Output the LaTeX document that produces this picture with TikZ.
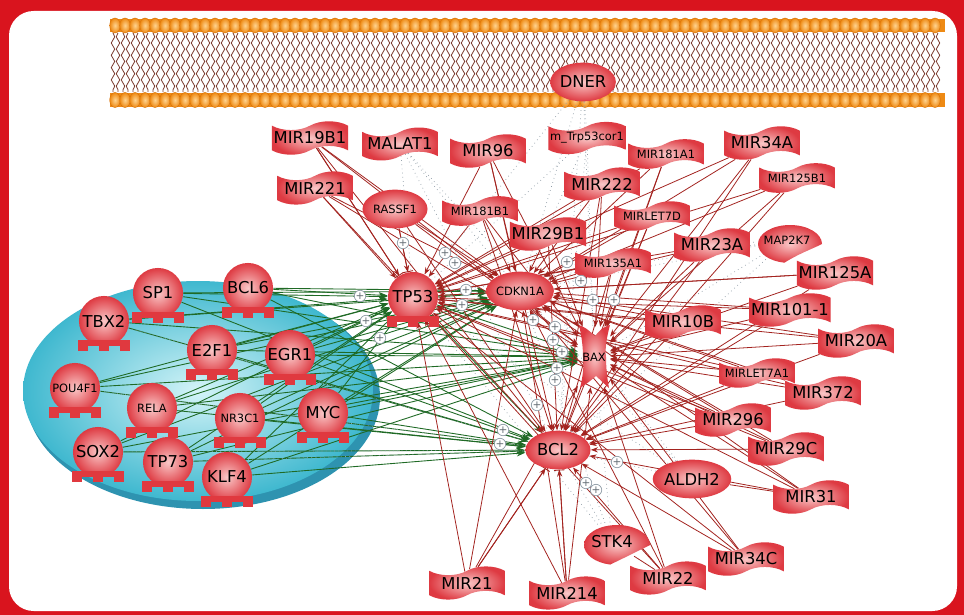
\documentclass[tikz,border=0pt]{standalone}
\usepackage{fontspec}
\setmainfont{DejaVu Sans}
\usetikzlibrary{calc,arrows.meta,shapes.geometric,shapes.symbols,decorations.pathmorphing}
\definecolor{frame}{HTML}{D9141E}
\definecolor{nodeout}{HTML}{DE3A42}
\definecolor{nodein}{HTML}{FAC8C8}
\definecolor{headout}{HTML}{EE8A14}
\definecolor{headin}{HTML}{FFD38F}
\definecolor{headrim}{HTML}{D8730C}
\definecolor{tail}{HTML}{7A3A2E}
\definecolor{diskout}{HTML}{3FB8CF}
\definecolor{diskin}{HTML}{D4F4F8}
\definecolor{diskrim}{HTML}{2E93B0}
\definecolor{actgreen}{HTML}{1F6A25}
\definecolor{inhred}{HTML}{A3231F}
\definecolor{relgray}{HTML}{8F9CA6}
\definecolor{footred}{HTML}{E0393F}
\pgfdeclarelayer{back}
\pgfdeclarelayer{edges}
\pgfsetlayers{back,edges,main}
\tikzset{
  bodyshade/.style={inner color=nodein, outer color=nodeout},
  mirna/.style={shape=tape, tape bend top=in and out, tape bend bottom=in and out, bodyshade,
    minimum width=43pt, minimum height=13pt, inner sep=1pt, font=\fontsize{9.3}{10}\selectfont},
  smirna/.style={mirna, font=\fontsize{6.5}{7}\selectfont},
  prot/.style={ellipse, bodyshade, minimum width=37pt, minimum height=22pt, inner sep=0pt,
    font=\fontsize{9.3}{10}\selectfont},
  sprot/.style={prot, font=\fontsize{6.5}{7}\selectfont},
  tfac/.style={circle, bodyshade, minimum size=28.5pt, inner sep=0pt, font=\fontsize{9.3}{10}\selectfont},
  stfac/.style={tfac, font=\fontsize{6.5}{7}\selectfont},
  crlbl/.style={ellipse, minimum width=36pt, minimum height=22pt, inner sep=0pt},
  boxlbl/.style={rectangle, minimum width=18pt, minimum height=34pt, inner sep=0pt, font=\fontsize{6.5}{7}\selectfont},
  foot/.style={fill=footred},
  head/.style={inner color=headin, outer color=headout, draw=headrim, line width=0.25pt},
  lipid/.style={draw=tail, line width=0.45pt, decorate, decoration={snake, amplitude=1pt, segment length=7pt}},
  lipidb/.style={lipid, decoration={snake, amplitude=1pt, segment length=7pt, mirror}},
  act/.style={draw=actgreen, line width=0.5pt, -{Stealth[length=5pt,width=3.5pt]}},
  inh/.style={draw=inhred, line width=0.45pt, -{Stealth[length=4pt,width=3pt]}},
  blk/.style={draw=inhred, line width=0.5pt, -{Bar[width=6pt]}},
  rel/.style={draw=relgray, line width=0.4pt, dotted},
  plusmark/.style={circle, draw=relgray, fill=white, text=relgray!70!black, inner sep=0pt,
    minimum size=6.5pt, font=\fontsize{6}{6}\selectfont}
}
\begin{document}
\begin{tikzpicture}[x=0.02cm, y=-0.02cm]
  \useasboundingbox (0,0) rectangle (964,615);

  % frame, membrane, nucleus disk
  \begin{pgfonlayer}{back}
    \fill[frame] (0,0) rectangle (964,615);
    \fill[white, rounded corners=14pt] (9,11) rectangle (957,611);
    \fill[headout] (110,19) rectangle (945,32);
    \fill[headout] (110,93) rectangle (945,107);
    \foreach \i in {0,...,82} {
      \draw[lipid] (113+10*\i,33) -- (113+10*\i,92);
      \draw[lipidb] (118+10*\i,33) -- (118+10*\i,92);
      \shade[head] (115+10*\i,25.5) ellipse[x radius=5.3, y radius=7.5];
      \shade[head] (115+10*\i,100) ellipse[x radius=5.3, y radius=7.5];
    }
    \fill[diskrim] (203,397) ellipse[x radius=177, y radius=112];
    \shade[inner color=diskin, outer color=diskout] (198,391) ellipse[x radius=175, y radius=110];
  \end{pgfonlayer}

  % membrane and cytoplasm
  \node[prot] (dner) at (583,82) {DNER};
  \node[mirna] (mir19b1) at (310,138) {MIR19B1};
  \node[mirna] (malat1) at (400,144) {MALAT1};
  \node[mirna] (mir96) at (488,151) {MIR96};
  \node[smirna] (trp53cor1) at (587,138) {m\_Trp53cor1};
  \node[smirna] (mir181a1) at (666,154) {MIR181A1};
  \node[mirna] (mir34a) at (762,143) {MIR34A};
  \node[mirna] (mir221) at (315,188) {MIR221};
  \node[sprot] (rassf1) at (395,209) {RASSF1};
  \node[smirna] (mir181b1) at (480,211) {MIR181B1};
  \node[mirna] (mir222) at (602,184) {MIR222};
  \node[smirna] (mir125b1) at (797,178) {MIR125B1};
  \node[smirna] (mirlet7d) at (652,216) {MIRLET7D};
  \node[mirna] (mir29b1) at (548,234) {MIR29B1};
  \node[mirna] (mir23a) at (712,245) {MIR23A};
  \node[smirna] (mir135a1) at (613,263) {MIR135A1};
  \node[mirna] (mir125a) at (835,273) {MIR125A};
  \node[mirna] (mir101) at (790,310) {MIR101-1};
  \node[mirna] (mir10b) at (683,322) {MIR10B};
  \node[mirna] (mir20a) at (856,341) {MIR20A};
  \node[smirna] (mirlet7a1) at (757,373) {MIRLET7A1};
  \node[mirna] (mir372) at (823,393) {MIR372};
  \node[mirna] (mir296) at (733,420) {MIR296};
  \node[mirna] (mir29c) at (786,449) {MIR29C};
  \node[prot] (aldh2) at (692,479) {ALDH2};
  \node[mirna] (mir31) at (811,497) {MIR31};
  \node[mirna] (mir34c) at (746,559) {MIR34C};
  \node[mirna] (mir22) at (668,578) {MIR22};
  \node[mirna] (mir21) at (467,583) {MIR21};
  \node[mirna] (mir214) at (567,593) {MIR214};
  \node[sprot] (cdkn1a) at (520,291) {CDKN1A};
  \node[prot] (bcl2) at (558,450) {BCL2};

  % kinases (crescents) and BAX
  \shade[bodyshade] (822,244) arc[start angle=0, end angle=-260, x radius=32, y radius=19]
    .. controls (798,254) and (812,249) .. cycle;
  \node[crlbl, font=\fontsize{6.5}{7}\selectfont] (map2k7) at (787,240) {MAP2K7};
  \shade[bodyshade] (650,545) arc[start angle=0, end angle=-258, x radius=33, y radius=20]
    .. controls (626,557) and (640,550) .. cycle;
  \node[crlbl, font=\fontsize{9.3}{10}\selectfont] (stk4) at (612,542) {STK4};
  \shade[bodyshade] (579,325) .. controls (586,328) .. (595,336) .. controls (602,328) .. (610,325)
    .. controls (606,340) and (605,350) .. (606,357) .. controls (606,366) and (607,378) .. (609,388)
    .. controls (603,382) .. (596,376) .. controls (589,382) .. (580,388)
    .. controls (583,376) and (584,366) .. (583,357) .. controls (583,348) and (582,338) .. cycle;
  \node[boxlbl] (bax) at (594,357) {BAX};

  % transcription regulators
  \foreach \n/\x/\y/\t/\s in {sp1/158/293/SP1/tfac, bcl6/248/288/BCL6/tfac, tbx2/104/321/TBX2/tfac,
      e2f1/212/350/E2F1/tfac, egr1/290/355/EGR1/tfac, pou4f1/75/388/POU4F1/stfac,
      rela/152/408/RELA/stfac, nr3c1/240/418/NR3C1/stfac, myc/323/413/MYC/tfac,
      sox2/98/452/SOX2/tfac, tp73/168/462/TP73/tfac, klf4/227/477/KLF4/tfac,
      tp53/413/297/TP53/tfac} {
    \node[\s] (\n) at (\x,\y) {\t};
    \fill[foot] (\x-26,\y+19) rectangle (\x+26,\y+25);
    \foreach \d in {-21,0,21}
      \fill[foot] (\x+\d-5,\y+25) rectangle (\x+\d+5,\y+30);
  }

  \foreach [count=\i] \px/\py in {403/243, 445/253, 455/263, 360/296, 366/321, 380/338, 466/290,
      462/305, 567/262, 581/281, 593/300, 614/300, 555/327, 553/340, 562/352, 557/368, 555/380,
      537/405, 503/430, 500/444, 617/462, 586/483, 596/490, 533/320}
    \node[plusmark] (plus\i) at (\px,\py) {+};

  % interactions
  \begin{pgfonlayer}{edges}
    \foreach \s in {sp1,bcl6,tbx2,e2f1,egr1,pou4f1,rela,nr3c1,myc,sox2,tp73,klf4}
      \foreach \t in {tp53,cdkn1a,bax,bcl2}
        \draw[act] (\s) -- (\t);
    \foreach \t in {cdkn1a,bax,bcl2}
      \draw[act] (tp53) -- (\t);
    \foreach \s in {mir19b1,mir221,rassf1,mir96,mir181b1,mir222,mir181a1,mir34a,mir125b1,mirlet7d,
        mir29b1,mir23a,mir135a1,mir125a,mir101,mir10b,mir20a,mirlet7a1,mir372,mir296,mir29c,
        mir31,mir34c,mir22,mir21,mir214}
      \foreach \t in {tp53,cdkn1a,bax,bcl2}
        \draw[inh] (\s) -- (\t);
    \foreach \s in {dner,trp53cor1,malat1,map2k7,stk4,aldh2}
      \foreach \t in {tp53,cdkn1a,bax,bcl2}
        \draw[rel] (\s) -- (\t);
    \foreach \s in {tbx2,pou4f1,sox2,tp73}
      \draw[rel] (\s) -- (bcl2);
    \draw[blk] (rassf1) -- (tp53);
    \draw[blk] (mir19b1) -- (tp53);
    \draw[blk] (mir214) -- (bcl2);
    \draw[blk] (mir21) -- (bcl2);
    \draw[inhred, line width=0.45pt] (aldh2) -- (mir31);
    \draw[inhred, line width=0.45pt] (stk4) -- (mir22);
    \draw[rel] (map2k7) -- (mir23a);
    \draw[rel] (dner) -- (trp53cor1);
  \end{pgfonlayer}
\end{tikzpicture}
\end{document}
